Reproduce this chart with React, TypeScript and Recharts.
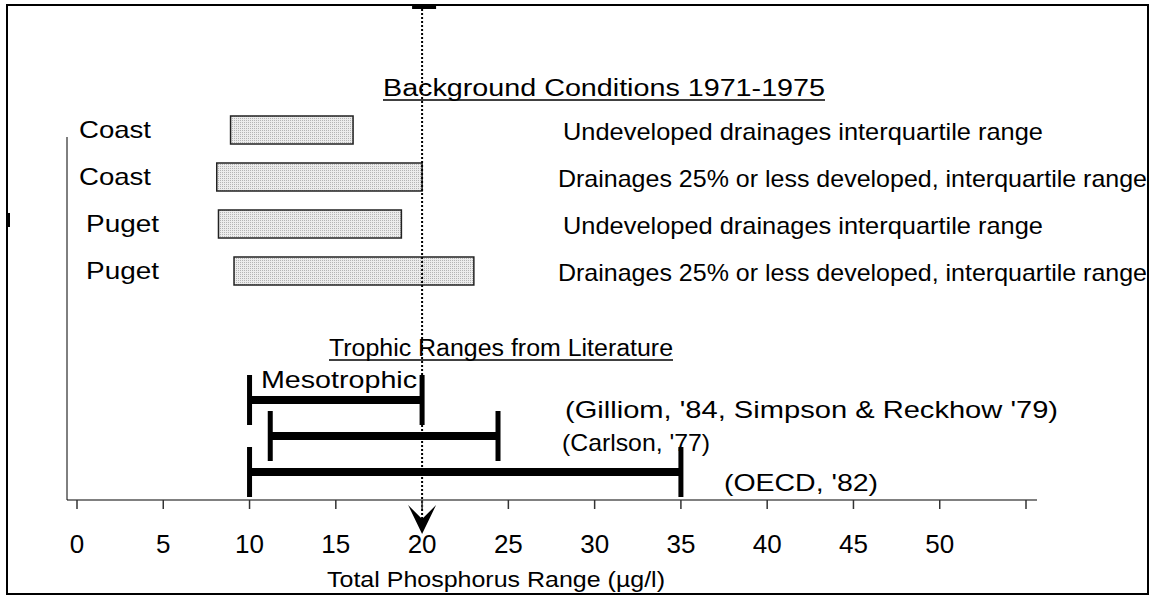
import { ComposedChart, Bar, XAxis, YAxis, ReferenceLine } from 'recharts';

// background conditions 1971-1975, interquartile ranges (µg/l)
const bgRegions = ['Coast', 'Coast', 'Puget', 'Puget'];
const bgDescriptions = [
  'Undeveloped drainages interquartile range',
  'Drainages 25% or less developed, interquartile range',
  'Undeveloped drainages interquartile range',
  'Drainages 25% or less developed, interquartile range',
];
const bgLow = [8.9, 8.1, 8.2, 9.1];
const bgHigh = [16, 20, 18.8, 23];

// trophic ranges from literature (µg/l)
const trophicSources = ["(Gilliom, '84, Simpson & Reckhow '79)", "(Carlson, '77)", "(OECD, '82)"];
const trophicLow = [10, 11.2, 10];
const trophicHigh = [20, 24.4, 35];

const xTicks = [0, 5, 10, 15, 20, 25, 30, 35, 40, 45, 50, 55];
const xLabelMax = 50;
const targetValue = 20;

const W = 1154;
const H = 597;
const FONT = '"Liberation Sans", Arial, Helvetica, sans-serif';

const bgData = bgLow.map((lo, i) => ({ row: i, range: [lo, bgHigh[i]] }));
const trophicData = trophicLow.map((lo, i) => ({ row: i, range: [lo, trophicHigh[i]] }));

function StretchText({ x, y, w, size, children }: any) {
  return (
    <text x={x} y={y} textLength={w} lengthAdjust="spacingAndGlyphs" fontSize={size} fill="#000">
      {children}
    </text>
  );
}

function RowTick(props: any) {
  const { y, payload } = props;
  const i = payload.index ?? Number(payload.value);
  const region = bgRegions[i];
  const desc = bgDescriptions[i];
  const undeveloped = desc.startsWith('Undeveloped');
  return (
    <g>
      <StretchText x={region === 'Puget' ? 86 : 79} y={y + 8} w={region === 'Puget' ? 73 : 72} size={24}>
        {region}
      </StretchText>
      <StretchText x={undeveloped ? 563 : 558} y={y + 10} w={undeveloped ? 480 : 589} size={24}>
        {desc}
      </StretchText>
    </g>
  );
}

function IntervalShape(props: any) {
  const { x, y, width, height } = props;
  const cy = y + height / 2;
  return (
    <g>
      <rect x={x} y={cy - 4} width={width} height={8} fill="#000" />
      <rect x={x - 2.5} y={cy - 25} width={5} height={50} fill="#000" />
      <rect x={x + width - 2.5} y={cy - 25} width={5} height={50} fill="#000" />
    </g>
  );
}

function TargetArrow(props: any) {
  const x = props.x1;
  return (
    <g>
      <line x1={x} y1={9} x2={x} y2={522} stroke="#000" strokeWidth={2} strokeDasharray="2 2" />
      <rect x={x - 10} y={5} width={24} height={4} fill="#000" />
      <path d={`M${x - 14},505 L${x},534 L${x + 14},505 L${x},519 Z`} fill="#000" />
    </g>
  );
}

export default function App() {
  return (
    <div style={{ position: 'absolute', left: 0, top: 0, width: W, height: H, background: '#fff', fontFamily: FONT }}>
      {/* background bars */}
      <div style={{ position: 'absolute', left: 0, top: 0 }}>
        <ComposedChart layout="vertical" width={W} height={H} data={bgData} margin={{ top: 106, right: 117, bottom: 303, left: 0 }}>
          <XAxis type="number" domain={[0, 55]} hide padding={{ left: 10, right: 11 }} />
          <YAxis type="category" dataKey="row" width={67} axisLine={false} tickLine={false} tick={<RowTick />} interval={0} />
          <Bar dataKey="range" barSize={28} fill="url(#stipple)" stroke="#222" strokeWidth={1.5} isAnimationActive={false} />
        </ComposedChart>
      </div>

      {/* trophic ranges + axis */}
      <div style={{ position: 'absolute', left: 0, top: 0 }}>
        <ComposedChart layout="vertical" width={W} height={H} data={trophicData} margin={{ top: 137, right: 117, bottom: 0, left: 0 }}>
          <XAxis
            type="number"
            domain={[0, 55]}
            ticks={xTicks}
            interval={0}
            padding={{ left: 10, right: 11 }}
            height={97}
            tickSize={9}
            tickMargin={26}
            axisLine={{ stroke: '#808080', strokeWidth: 2 }}
            tickLine={{ stroke: '#333', strokeWidth: 1.5 }}
            tick={{ fill: '#000', fontSize: 26 }}
            tickFormatter={(v: number) => (v > xLabelMax ? '' : String(v))}
          />
          <YAxis
            type="category"
            dataKey="row"
            width={67}
            tick={false}
            tickLine={false}
            axisLine={{ stroke: '#000', strokeWidth: 1 }}
            padding={{ top: 245, bottom: 10 }}
          />
          <Bar dataKey="range" barSize={8} shape={(p: any) => <IntervalShape {...p} />} isAnimationActive={false} />
          <ReferenceLine x={targetValue} shape={(p: any) => <TargetArrow {...p} />} />
        </ComposedChart>
      </div>

      {/* frame and annotations */}
      <svg width={W} height={H} style={{ position: 'absolute', left: 0, top: 0, pointerEvents: 'none' }}>
        <defs>
          <pattern id="stipple" width={2} height={2} patternUnits="userSpaceOnUse">
            <rect width={2} height={2} fill="#ececec" />
            <rect width={1} height={1} fill="#b4b4b4" />
          </pattern>
        </defs>
        <rect x={7} y={5} width={1141} height={589} fill="none" stroke="#000" strokeWidth={2} />
        <rect x={7} y={213} width={3} height={14} fill="#000" />

        <StretchText x={383} y={96} w={442} size={23}>Background Conditions  1971-1975</StretchText>
        <line x1={383} y1={100} x2={825} y2={100} stroke="#000" strokeWidth={1.5} />

        <StretchText x={329} y={356} w={344} size={23}>Trophic Ranges from Literature</StretchText>
        <line x1={329} y1={360} x2={673} y2={360} stroke="#000" strokeWidth={1.5} />

        <StretchText x={261} y={388} w={156} size={24}>Mesotrophic</StretchText>
        <StretchText x={565} y={418} w={493} size={24}>{trophicSources[0]}</StretchText>
        <StretchText x={562} y={451} w={148} size={24}>{trophicSources[1]}</StretchText>
        <StretchText x={724} y={491} w={154} size={24}>{trophicSources[2]}</StretchText>

        <StretchText x={327} y={587} w={338} size={22}>Total Phosphorus Range (µg/l)</StretchText>
      </svg>
    </div>
  );
}
